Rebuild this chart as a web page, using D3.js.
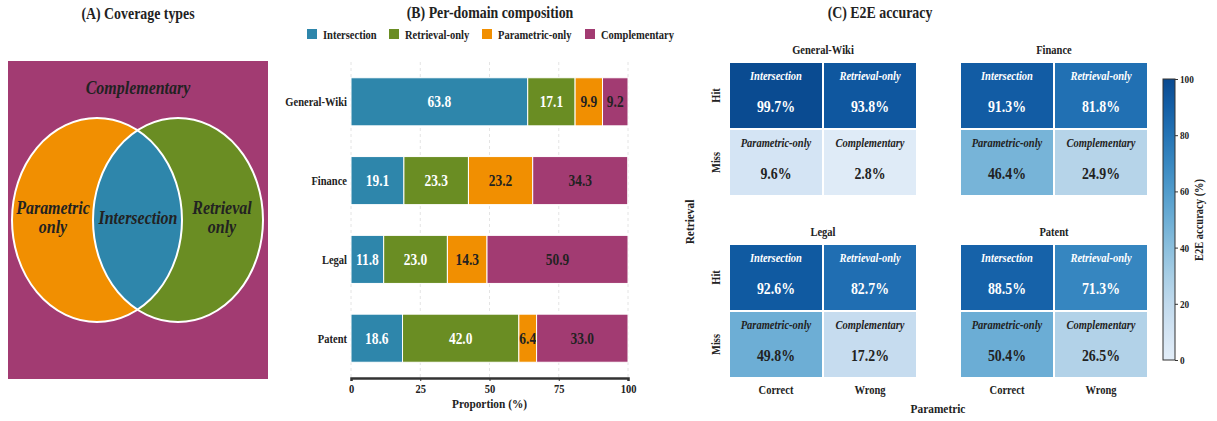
<!DOCTYPE html>
<html><head><meta charset="utf-8">
<script src="https://cdn.jsdelivr.net/npm/d3@7"></script>
<style>body{margin:0;background:#fff;}</style></head>
<body><svg id="c" width="1217" height="421"></svg>
<script>
// ---------- data ----------
const domains = ["General-Wiki","Finance","Legal","Patent"];
const types = ["Intersection","Retrieval-only","Parametric-only","Complementary"];
const intersection   = [63.8,19.1,11.8,18.6];
const retrievalOnly  = [17.1,23.3,23.0,42.0];
const parametricOnly = [9.9,23.2,14.3,6.4];
const complementary  = [9.2,34.3,50.9,33.0];
const xTicks = [0,25,50,75,100];
const accIntersection  = [99.7,91.3,92.6,88.5];
const accRetrieval     = [93.8,81.8,82.7,71.3];
const accParametric    = [9.6,46.4,49.8,50.4];
const accComplementary = [2.8,24.9,17.2,26.5];
const paramCols = ["Correct","Wrong"];
const retrRows = ["Hit","Miss"];
const cbTicks = [0,20,40,60,80,100];

const FONT = "Liberation Serif";
const SQ = 0.84; // horizontal squeeze of the reference typography
const colors = {"Intersection":"#2E86AB","Retrieval-only":"#6A8D23","Parametric-only":"#F18F01","Complementary":"#A23B72"};
const textDark = "#222";
const svg = d3.select("#c");
const defs = svg.append("defs");

// ---------- Panel A ----------
const A = svg.append("g");
A.append("text").attr("x",138).attr("y",19).attr("text-anchor","middle").attr("font-size",16.5).attr("fill",textDark).text("(A) Coverage types");
A.append("rect").attr("x",8).attr("y",61).attr("width",260).attr("height",318).attr("fill",colors["Complementary"]);
const eL = {cx:97,cy:220,rx:85,ry:102}, eR = {cx:178,cy:220,rx:85,ry:102};
defs.append("clipPath").attr("id","clipL").append("ellipse").attr("cx",eL.cx).attr("cy",eL.cy).attr("rx",eL.rx).attr("ry",eL.ry);
A.append("ellipse").attr("cx",eL.cx).attr("cy",eL.cy).attr("rx",eL.rx).attr("ry",eL.ry).attr("fill",colors["Parametric-only"]);
A.append("ellipse").attr("cx",eR.cx).attr("cy",eR.cy).attr("rx",eR.rx).attr("ry",eR.ry).attr("fill",colors["Retrieval-only"]);
A.append("ellipse").attr("cx",eR.cx).attr("cy",eR.cy).attr("rx",eR.rx).attr("ry",eR.ry).attr("fill",colors["Intersection"]).attr("clip-path","url(#clipL)");
[eL,eR].forEach(e=>A.append("ellipse").attr("cx",e.cx).attr("cy",e.cy).attr("rx",e.rx).attr("ry",e.ry).attr("fill","none").attr("stroke","#fff").attr("stroke-width",2));
function itxt(x,y,s){
  A.append("text").attr("x",x).attr("y",y).attr("text-anchor","middle").attr("font-style","italic").attr("font-size",19).attr("fill",textDark).text(s);
}
itxt(138,94,"Complementary");
itxt(53,214,"Parametric"); itxt(53,233,"only");
itxt(138,224,"Intersection");
itxt(222,214,"Retrieval"); itxt(222,233,"only");

// ---------- Panel B ----------
const B = svg.append("g");
B.append("text").attr("x",490).attr("y",18).attr("text-anchor","middle").attr("font-size",16.5).attr("fill",textDark).text("(B) Per-domain composition");
const legX = [307,389,482,585];
types.forEach((t,i)=>{
  B.append("rect").attr("x",legX[i]).attr("y",29).attr("width",10).attr("height",10).attr("fill",colors[t]);
  B.append("text").attr("x",legX[i]+16).attr("y",38.5).attr("font-size",12.5).attr("fill",textDark).text(t);
});
const x = d3.scaleLinear().domain([0,100]).range([351,628]);
const y = d3.scaleBand().domain(domains).range([62,378]).paddingInner(0.39).paddingOuter(0.2);
B.selectAll(".grid").data(xTicks).enter().append("line")
  .attr("x1",d=>x(d)).attr("x2",d=>x(d)).attr("y1",62).attr("y2",378)
  .attr("stroke","#ddd").attr("stroke-dasharray","3,3").attr("stroke-width",0.8);
const series = [intersection,retrievalOnly,parametricOnly,complementary];
const rows = domains.map((d,i)=>{const o={domain:d};types.forEach((t,j)=>o[t]=series[j][i]);return o;});
const stack = d3.stack().keys(types)(rows);
stack.forEach((layer,j)=>{
  const g=B.append("g");
  g.selectAll("rect").data(layer).enter().append("rect")
    .attr("x",d=>x(d[0])).attr("y",d=>y(d.data.domain))
    .attr("width",d=>x(d[1])-x(d[0])).attr("height",y.bandwidth())
    .attr("fill",colors[types[j]]).attr("stroke","#fff").attr("stroke-width",1);
  g.selectAll("text").data(layer).enter().append("text")
    .attr("x",d=>(x(d[0])+x(d[1]))/2).attr("y",d=>y(d.data.domain)+y.bandwidth()/2+5.5)
    .attr("text-anchor","middle").attr("font-size",16)
    .attr("fill",j<2?"#fff":textDark).text(d=>(d[1]-d[0]).toFixed(1));
});
B.selectAll(".yl").data(domains).enter().append("text")
  .attr("x",347).attr("y",d=>y(d)+y.bandwidth()/2+4.5).attr("text-anchor","end")
  .attr("font-size",12.5).attr("fill",textDark).text(d=>d);
const xa = B.append("g").attr("transform","translate(0,378)").call(d3.axisBottom(x).tickValues(xTicks).tickSize(3).tickPadding(3));
xa.select(".domain").attr("stroke","#333").attr("stroke-width",2.5);
xa.selectAll(".tick line").attr("stroke","#333");
xa.selectAll("text").attr("font-size",12.5).attr("fill",textDark);
B.append("text").attr("x",x(50)).attr("y",408).attr("text-anchor","middle").attr("font-size",13.5).attr("fill",textDark).text("Proportion (%)");

// ---------- Panel C ----------
const C = svg.append("g");
C.append("text").attr("x",880).attr("y",18).attr("text-anchor","middle").attr("font-size",16.5).attr("fill",textDark).text("(C) E2E accuracy");
const cmap = v => d3.interpolateBlues(0.1+0.8*v/100);
const panX = [729,960], panY = [62,244];
const cx = d3.scaleBand().domain(paramCols).range([0,188]);
const ry = d3.scaleBand().domain(retrRows).range([0,134]);
const cellTypes = [["Intersection","Retrieval-only"],["Parametric-only","Complementary"]];
const accs = [[accIntersection,accRetrieval],[accParametric,accComplementary]];
domains.forEach((dom,k)=>{
  const g = C.append("g").attr("transform",`translate(${panX[k%2]},${panY[Math.floor(k/2)]})`);
  g.append("text").attr("x",94).attr("y",-8).attr("text-anchor","middle").attr("font-size",12.5).attr("fill",textDark).text(dom);
  retrRows.forEach((r,ri)=>paramCols.forEach((c,ci)=>{
    const v = accs[ri][ci][k];
    const fg = v>60?"#fff":textDark;
    g.append("rect").attr("x",cx(c)).attr("y",ry(r)).attr("width",cx.bandwidth()).attr("height",ry.bandwidth())
      .attr("fill",cmap(v)).attr("stroke","#fff").attr("stroke-width",2);
    g.append("text").attr("x",cx(c)+cx.bandwidth()/2).attr("y",ry(r)+18).attr("text-anchor","middle")
      .attr("font-style","italic").attr("font-size",12.5).attr("fill",fg).text(cellTypes[ri][ci]);
    g.append("text").attr("x",cx(c)+cx.bandwidth()/2).attr("y",ry(r)+50).attr("text-anchor","middle")
      .attr("font-size",16.5).attr("fill",fg).text(v.toFixed(1)+"%");
  }));
  if(k%2===0){
    retrRows.forEach(r=>g.append("text").attr("transform",`translate(-9,${ry(r)+ry.bandwidth()/2}) rotate(-90)`)
      .attr("text-anchor","middle").attr("font-size",12.5).attr("fill",textDark).text(r));
  }
  if(k>=2){
    paramCols.forEach(c=>g.append("text").attr("x",cx(c)+cx.bandwidth()/2).attr("y",150).attr("text-anchor","middle")
      .attr("font-size",12.5).attr("fill",textDark).text(c));
  }
});
C.append("text").attr("transform","translate(694,222) rotate(-90)").attr("text-anchor","middle").attr("font-size",13.5).attr("fill",textDark).text("Retrieval");
C.append("text").attr("x",938).attr("y",413).attr("text-anchor","middle").attr("font-size",13.5).attr("fill",textDark).text("Parametric");
const cbY = d3.scaleLinear().domain([0,100]).range([360,79]);
const grad = defs.append("linearGradient").attr("id","cbg").attr("x1",0).attr("y1",1).attr("x2",0).attr("y2",0);
d3.range(0,101,10).forEach(v=>grad.append("stop").attr("offset",v/100).attr("stop-color",cmap(v)));
C.append("rect").attr("x",1163).attr("y",79).attr("width",12).attr("height",281).attr("fill","url(#cbg)").attr("stroke","#333").attr("stroke-width",1);
const cba = C.append("g").attr("transform","translate(1175,0)").call(d3.axisRight(cbY).tickValues(cbTicks).tickSize(3).tickPadding(2));
cba.select(".domain").remove();
cba.selectAll("line").attr("stroke","#333");
cba.selectAll("text").attr("font-size",11).attr("fill",textDark);
C.append("text").attr("transform","translate(1203,220) rotate(-90)").attr("text-anchor","middle").attr("font-size",12.5).attr("fill",textDark).text("E2E accuracy (%)");

// typography: bold serif, horizontally condensed like the reference
svg.selectAll("text").attr("font-family",FONT).attr("font-weight","bold").each(function(){
  const len = this.getComputedTextLength();
  d3.select(this).attr("textLength",len*SQ).attr("lengthAdjust","spacingAndGlyphs");
});
</script></body></html>
